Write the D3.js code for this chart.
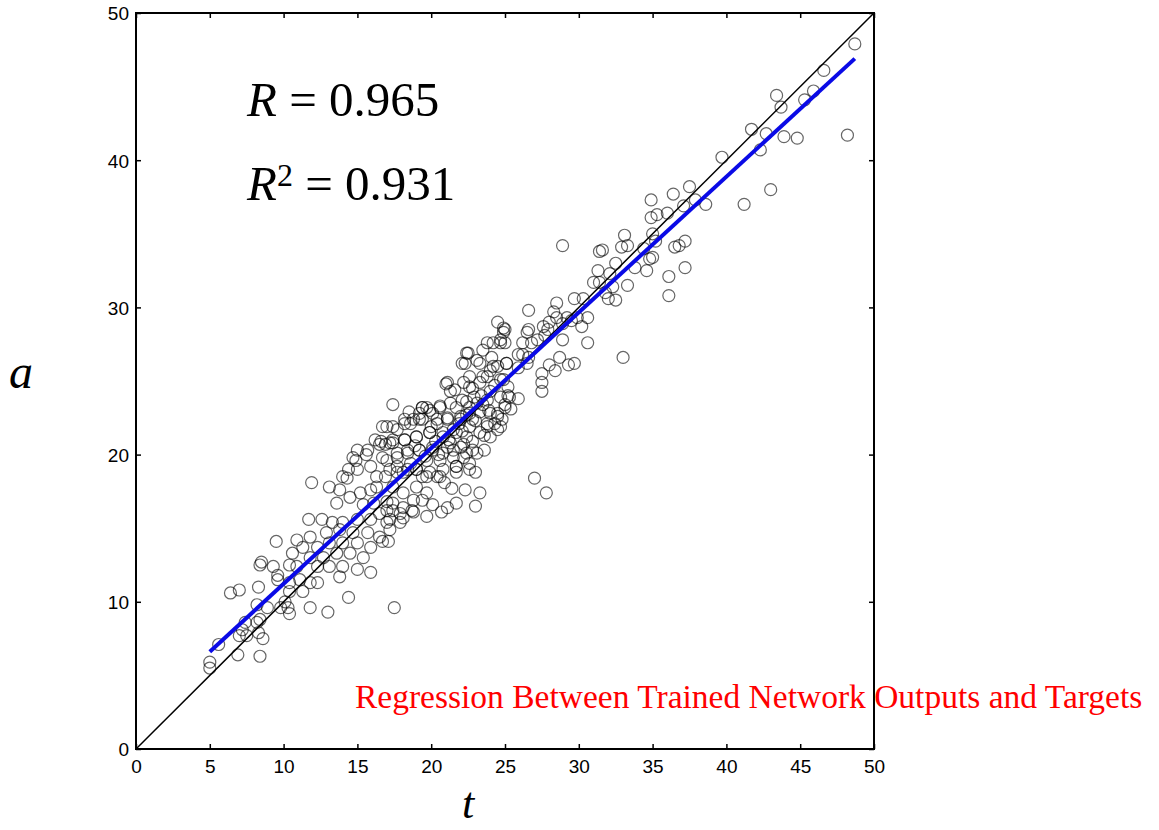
<!DOCTYPE html>
<html>
<head>
<meta charset="utf-8">
<script src="https://cdn.jsdelivr.net/npm/d3@7"></script>
<style>
  body { margin: 0; background: #fff; }
  .axis text { font-family: "Liberation Sans", Arial, sans-serif; font-size: 19px; fill: #000; }
  .axis line { stroke: #000; stroke-width: 1.5; }
</style>
</head>
<body>
<div id="grafica"></div>
<script>
// ejes: t (targets) y a (outputs), rango 0-50
const axisTicks = [0, 5, 10, 15, 20, 25, 30, 35, 40, 45, 50];
const yTicks = [0, 10, 20, 30, 40, 50];

// recta de regresion
const fitSlope = 0.922;
const fitIntercept = 2.0;
const statR = "0.965";
const statR2 = "0.931";
const titleText = "Regression Between Trained Network Outputs and Targets";

// puntos [t, a] de la zona alta / derecha
const upperPts = [
  [48.7,47.9],[46.6,46.1],[45.9,44.7],[45.3,44.1],[43.4,44.4],[43.7,43.6],[42.7,41.8],[41.7,42.1],
  [43.9,41.6],[44.8,41.5],[48.2,41.7],[42.3,40.7],[39.7,40.2],[43.0,38.0],[41.2,37.0],[38.6,37.0],
  [37.5,38.2],[37.9,37.3],[36.4,37.7],[34.9,37.3],[35.3,36.3],[34.9,36.1],[36.0,36.4],[37.1,36.9],
  [37.2,34.5],[36.8,34.2],[35.2,34.5],[37.2,32.7],[36.1,32.1],[36.1,30.8],[34.8,33.3],[34.6,32.5],
  [35.0,35.0]
];

// puntos de la zona 25-36
const midHighPts = [
  [28.9,34.2],[33.1,34.9],[31.6,33.9],[31.4,33.8],[32.9,34.1],[33.3,34.2],[34.4,34.0],[35.0,33.4],
  [36.5,34.1],[33.8,32.7],[33.3,31.5],[32.5,33.0],[32.1,32.3],[31.3,32.5],[31.0,31.7],[31.4,31.7],
  [31.8,31.0],[32.3,31.4],[32.0,30.6],[32.5,30.5],[29.7,30.6],[30.3,30.6],[30.6,29.3],[29.9,29.3],
  [29.5,29.1],[28.9,28.9],[28.5,30.3],[28.3,29.7],[28.0,29.0],[27.6,28.7],[27.9,28.5],[28.5,29.3],
  [29.2,29.3],[30.2,28.7],[26.6,29.8],[26.6,28.5],[26.2,27.6],[26.8,27.6],[27.2,27.8],[27.7,28.1],
  [28.9,27.8],[30.6,27.6],[29.7,26.2],[28.7,26.6],[28.0,26.1],[27.5,25.5],[26.6,26.6],[25.9,26.8],
  [24.9,28.6],[25.0,27.6],[25.1,26.2],[33.0,26.6],[24.5,29.0],[25.0,28.5],[24.2,27.6],[24.7,27.8],
  [27.5,24.9],[27.5,24.3],[28.4,25.7],[29.3,26.1],[27.0,18.4],[27.8,17.4],[25.4,23.1],[25.9,23.8]
];

// nucleo denso 16-26
const corePts = [
  [24.9,28.3],[26.5,28.3],[22.5,26.9],[22.1,26.2],[23.5,27.1],[24.1,26.6],[23.3,26.2],[24.2,26.0],
  [25.1,26.2],[25.9,25.9],[26.5,26.2],[21.1,24.9],[21.3,24.3],[22.2,24.9],[22.6,25.3],[22.8,24.5],
  [23.3,24.9],[23.8,25.3],[24.7,25.1],[25.2,24.6],[25.3,23.9],[24.7,23.9],[24.0,24.3],[23.5,23.4],
  [22.4,23.6],[21.7,23.2],[20.6,23.2],[19.7,23.2],[19.2,22.8],[20.1,22.8],[17.4,23.4],[17.0,21.9],
  [17.4,21.9],[18.2,22.1],[18.8,22.4],[19.4,22.4],[20.4,22.1],[21.1,22.4],[22.0,22.6],[22.6,22.8],
  [23.3,22.9],[24.0,22.8],[24.5,22.6],[23.8,21.9],[24.3,22.1],[22.6,21.9],[21.5,21.7],[20.8,21.2],
  [19.9,21.5],[19.0,21.2],[18.2,21.0],[17.4,21.0],[16.9,20.7],[16.7,19.8],[17.7,20.1],[18.4,20.3],
  [19.2,20.3],[20.1,20.3],[20.8,20.1],[21.5,20.3],[22.2,20.7],[22.8,20.9],[23.1,20.1],[22.2,19.8],
  [21.7,19.2],[22.6,19.0],[23.0,18.8],[21.4,17.7],[22.3,17.6],[23.3,17.4],[21.7,16.7],[21.1,16.4],
  [20.7,16.1],[20.1,16.6],[19.4,16.9],[18.8,16.9],[18.1,17.4],[17.4,17.8],[16.9,18.5],[17.7,18.8],
  [18.4,19.0],[19.0,19.0],[19.7,18.5],[20.4,18.5],[20.9,18.1],[19.0,17.8],[19.7,17.4],[17.4,16.7],
  [17.0,16.2],[17.9,16.0],[18.8,16.1],[19.7,15.8],[17.0,15.4],[17.9,15.4],[17.2,14.9],[23.0,16.5],
  [24.5,21.7],[24.8,22.4],[25.0,23.4],[23.6,21.3],
  [23.8,27.6],[24.7,27.6],[26.2,26.8],[22.4,26.9],[22.3,26.2],[23.1,26.4],[21.0,24.8],[21.6,24.4],
  [22.6,24.6],[23.5,25.3],[24.0,25.7],[24.5,26.0],[24.9,25.1],[25.2,24.0],[25.0,23.2],[24.5,22.8],
  [23.8,23.7],[23.1,23.5],[22.6,23.2],[22.1,23.7],[21.3,23.5],[20.6,23.3],[19.9,23.0],[19.4,23.2],
  [18.6,22.1],[19.2,22.4],[20.4,22.4],[21.1,22.5],[22.0,22.4],[22.8,22.4],[23.8,22.1],[24.7,21.9],
  [17.7,21.7],[17.4,20.8],[18.2,21.0],[19.0,21.2],[19.9,21.5],[20.8,21.5],[21.7,21.5],[22.4,21.2],
  [23.3,21.5],[24.0,21.2],[23.6,20.3],[22.8,20.3],[22.0,20.5],[21.1,20.5],[20.1,20.5],[19.2,20.3],
  [18.4,20.1],[17.7,19.8],[18.6,19.4],[19.7,19.6],[20.6,19.6],[21.5,19.8],[22.4,20.1],[22.6,19.4],
  [21.7,19.2],[20.8,19.0],[19.9,18.8],[19.0,19.0],[18.1,18.8],[17.7,19.2],[19.4,18.5],[20.6,18.5],
  [21.7,18.8],[20.3,20.9],[21.2,21.0],[22.1,21.6],[23.0,22.3],[23.9,23.0],[22.9,23.9],[21.9,22.1],
  [20.5,20.0],[19.6,19.9],[21.3,20.8],[22.4,22.7],[23.4,24.0],[24.3,24.7],[20.0,21.9],[18.9,20.6]
];

// zona baja 5-18
const lowerPts = [
  [15.0,20.3],[15.7,20.3],[14.7,19.8],[14.4,19.0],[14.0,18.5],[14.3,18.4],[15.0,19.0],[15.9,19.2],
  [16.3,18.5],[17.2,19.0],[17.0,19.6],[16.5,20.7],[17.2,20.8],[11.9,18.1],[13.1,17.8],[13.8,17.6],
  [13.6,16.7],[14.5,17.1],[15.2,17.4],[15.9,17.6],[16.3,17.8],[15.4,16.6],[16.1,16.7],[17.0,16.8],
  [16.5,16.0],[17.4,16.2],[18.1,16.4],[18.7,16.2],[18.1,15.7],[17.2,15.6],[11.7,15.6],[12.6,15.6],
  [13.3,15.4],[14.0,15.4],[15.0,15.6],[15.9,15.6],[10.9,14.2],[11.8,14.4],[12.9,14.7],[13.8,14.9],
  [14.7,14.7],[15.7,14.7],[16.5,14.4],[16.7,14.1],[17.1,14.1],[11.3,13.7],[12.3,13.7],[13.1,14.0],
  [14.0,14.0],[15.0,14.0],[15.9,13.7],[11.8,13.0],[12.7,13.0],[13.6,13.3],[14.5,13.3],[15.4,13.0],
  [10.9,12.4],[12.3,12.4],[13.1,12.4],[14.0,12.4],[15.0,12.2],[15.9,12.0],[13.8,11.7],[10.6,13.3],
  [8.4,12.5],[9.3,12.4],[10.4,12.5],[9.6,11.8],[6.4,10.6],[7.0,10.8],[8.3,11.0],[9.6,11.5],
  [10.4,11.3],[11.1,11.5],[11.8,11.3],[12.3,11.3],[11.3,10.7],[10.4,10.7],[10.1,10.0],[10.3,9.6],
  [10.4,9.2],[9.8,9.6],[8.2,9.8],[8.9,9.6],[11.8,9.6],[13.0,9.3],[8.4,8.8],[8.2,8.6],
  [7.4,8.6],[7.2,8.1],[7.0,7.7],[7.5,7.7],[8.3,7.9],[8.6,7.5],[5.6,7.1],[6.9,6.4],
  [8.4,6.3],[5.0,5.9],[5.0,5.5],[9.5,14.1],[8.5,12.7],[14.4,10.3],[17.5,9.6],[16.7,21.9],
  [16.2,21.0],[16.6,20.9],[15.6,20.0],[14.9,19.6],[18.5,22.9],[19.4,23.2],[18.2,22.4]
];

const allPts = upperPts.concat(midHighPts, corePts, lowerPts);

const W = 1159, H = 830;
const margin = {top: 13, right: 285, bottom: 81, left: 136};
const iw = W - margin.left - margin.right;
const ih = H - margin.top - margin.bottom;

const svg = d3.select("#grafica").append("svg")
  .attr("width", W).attr("height", H);

const g = svg.append("g").attr("transform", `translate(${margin.left},${margin.top})`);

const x = d3.scaleLinear().domain([0, 50]).range([0, iw]);
const y = d3.scaleLinear().domain([0, 50]).range([ih, 0]);

// ejes con ticks hacia dentro
g.append("g").attr("class", "axis")
  .attr("transform", `translate(0,${ih})`)
  .call(d3.axisBottom(x).tickValues(axisTicks).tickSize(-5).tickPadding(11))
  .call(s => s.select(".domain").remove());
g.append("g").attr("class", "axis")
  .call(d3.axisLeft(y).tickValues(yTicks).tickSize(-5).tickPadding(7))
  .call(s => s.select(".domain").remove())
  .call(s => s.selectAll("text").attr("dy", "0.36em"));
g.append("g").attr("class", "axis")
  .call(d3.axisTop(x).tickValues(axisTicks).tickSize(-5).tickFormat(""))
  .call(s => s.select(".domain").remove());
g.append("g").attr("class", "axis")
  .attr("transform", `translate(${iw},0)`)
  .call(d3.axisRight(y).tickValues(yTicks).tickSize(-5).tickFormat(""))
  .call(s => s.select(".domain").remove());

g.append("rect")
  .attr("width", iw).attr("height", ih)
  .attr("fill", "none").attr("stroke", "#000").attr("stroke-width", 2);

// diagonal a = t
g.append("line")
  .attr("x1", x(0)).attr("y1", y(0)).attr("x2", x(50)).attr("y2", y(50))
  .attr("stroke", "#000").attr("stroke-width", 1.5);

// puntos
g.append("g").selectAll("circle")
  .data(allPts)
  .join("circle")
  .attr("cx", d => x(d[0]))
  .attr("cy", d => y(d[1]))
  .attr("r", 6)
  .attr("fill", "none")
  .attr("stroke", "#000")
  .attr("stroke-opacity", 0.6)
  .attr("stroke-width", 1.2);

// recta ajustada
const tExt = d3.extent(allPts, d => d[0]);
g.append("line")
  .attr("x1", x(tExt[0])).attr("y1", y(fitSlope * tExt[0] + fitIntercept))
  .attr("x2", x(tExt[1])).attr("y2", y(fitSlope * tExt[1] + fitIntercept))
  .attr("stroke", "#0a0ae6").attr("stroke-width", 4);

// textos
const serif = '"Liberation Serif", "Times New Roman", serif';
const t1 = svg.append("text").attr("x", 247).attr("y", 116)
  .attr("font-family", serif).attr("font-size", 49);
t1.append("tspan").attr("font-style", "italic").text("R");
t1.append("tspan").text(" = " + statR);

const t2 = svg.append("text").attr("x", 247).attr("y", 200)
  .attr("font-family", serif).attr("font-size", 49);
t2.append("tspan").attr("font-style", "italic").text("R");
t2.append("tspan").attr("font-size", 32).attr("dy", -14).text("2");
t2.append("tspan").attr("dy", 14).text(" = " + statR2);

svg.append("text").attr("x", 355).attr("y", 708)
  .attr("font-family", serif).attr("font-size", 33.5).attr("fill", "#ff0000")
  .text(titleText);

svg.append("text").attr("x", 9).attr("y", 388)
  .attr("font-family", serif).attr("font-size", 48).attr("font-style", "italic")
  .text("a");
svg.append("text").attr("x", 462).attr("y", 818)
  .attr("font-family", serif).attr("font-size", 44).attr("font-style", "italic")
  .text("t");
</script>
</body>
</html>
